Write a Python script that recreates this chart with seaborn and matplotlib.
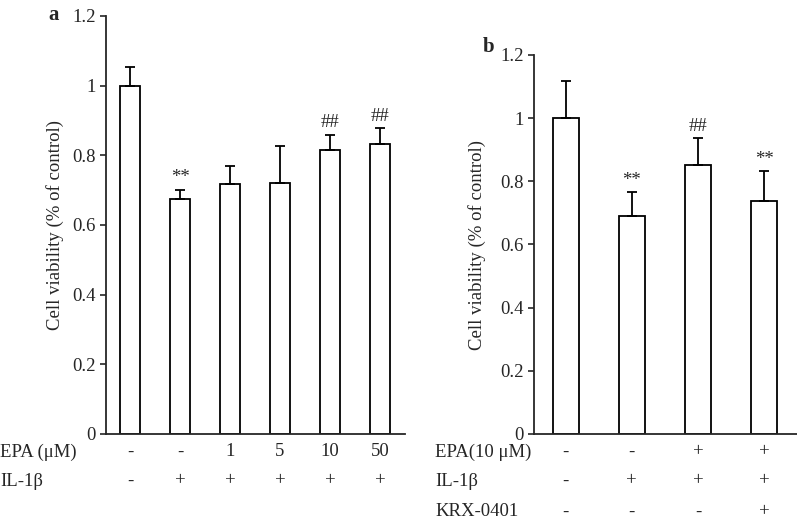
import numpy as np
import pandas as pd
import matplotlib
matplotlib.use("Agg")
import matplotlib.pyplot as plt
import matplotlib.transforms as mtrans
from matplotlib.ticker import FuncFormatter
import seaborn as sns

# panel a data
a_groups = ["a1", "a2", "a3", "a4", "a5", "a6"]
a_means = [1.0, 0.676, 0.718, 0.722, 0.814, 0.833]
a_errs = [0.054, 0.025, 0.052, 0.106, 0.045, 0.045]
a_marks = ["", "**", "", "", "##", "##"]
a_epa = ["-", "-", "1", "5", "10", "50"]
a_il1b = ["-", "+", "+", "+", "+", "+"]

# panel b data
b_groups = ["b1", "b2", "b3", "b4"]
b_means = [1.0, 0.691, 0.852, 0.738]
b_errs = [0.119, 0.074, 0.086, 0.094]
b_marks = ["", "**", "##", "**"]
b_epa = ["-", "-", "+", "+"]
b_il1b = ["-", "+", "+", "+"]
b_krx = ["-", "-", "-", "+"]

FS = 13.5

sns.set_style("ticks")
plt.rcParams['font.family'] = ['Liberation Serif', 'DejaVu Serif']

fig = plt.figure(figsize=(7.97, 5.23), dpi=100)
H = 523.0
W = 797.0

ax_a = fig.add_axes([106 / W, 1 - 434 / H, (405 - 106) / W, (434 - 16) / H])
ax_b = fig.add_axes([534 / W, 1 - 434 / H, (797 - 534) / W, (434 - 55) / H])


def draw_panel(ax, groups, means, errs, marks, labelpad):
    df = pd.DataFrame({"group": groups, "value": means})
    sns.barplot(data=df, x="group", y="value", ax=ax, color="white",
                edgecolor="black", linewidth=1.3, width=0.4, errorbar=None)
    x = np.arange(len(groups))
    ax.errorbar(x, means, yerr=[np.zeros(len(errs)), errs], fmt="none",
                ecolor="black", elinewidth=1.3, capsize=3.5, capthick=1.3)
    for i, m in enumerate(marks):
        if m:
            ax.text(i, means[i] + errs[i] + 0.01, m, ha="center", va="bottom",
                    fontsize=FS)
    ax.set_ylim(0, 1.2)
    ax.set_xlim(-0.48, len(groups) - 0.5)
    ax.set_yticks([0, 0.2, 0.4, 0.6, 0.8, 1.0, 1.2])
    ax.yaxis.set_major_formatter(FuncFormatter(lambda v, p: "%g" % v))
    ax.set_xticks([])
    ax.set_xlabel("")
    ax.set_ylabel("Cell viability (% of control)", fontsize=FS, labelpad=labelpad)
    ax.tick_params(axis="y", direction="out", length=4, width=1.2, labelsize=FS)
    for s in ["top", "right"]:
        ax.spines[s].set_visible(False)
    for s in ["left", "bottom"]:
        ax.spines[s].set_linewidth(1.3)


draw_panel(ax_a, a_groups, a_means, a_errs, a_marks, 6)
draw_panel(ax_b, b_groups, b_means, b_errs, b_marks, 10)

# treatment tables under the bars
tr_a = mtrans.blended_transform_factory(ax_a.transData, fig.transFigure)
tr_b = mtrans.blended_transform_factory(ax_b.transData, fig.transFigure)

rows_a = [("EPA (μM)", a_epa, 452), ("IL-1β", a_il1b, 481)]
for lab, vals, yp in rows_a:
    fig.text(0 / W, 1 - yp / H, lab, ha="left", va="center", fontsize=FS)
    for i, v in enumerate(vals):
        ax_a.text(i, 1 - yp / H, v, transform=tr_a, ha="center", va="center",
                  fontsize=FS)

rows_b = [("EPA(10 μM)", b_epa, 452), ("IL-1β", b_il1b, 481),
          ("KRX-0401", b_krx, 512)]
for lab, vals, yp in rows_b:
    fig.text(435 / W, 1 - yp / H, lab, ha="left", va="center", fontsize=FS)
    for i, v in enumerate(vals):
        ax_b.text(i, 1 - yp / H, v, transform=tr_b, ha="center", va="center",
                  fontsize=FS)

fig.text(48 / W, 1 - 15 / H, "a", ha="left", va="center", fontsize=15,
         fontweight="bold")
fig.text(483 / W, 1 - 47 / H, "b", ha="left", va="center", fontsize=15,
         fontweight="bold")

fig.savefig("out.png", dpi=100)
